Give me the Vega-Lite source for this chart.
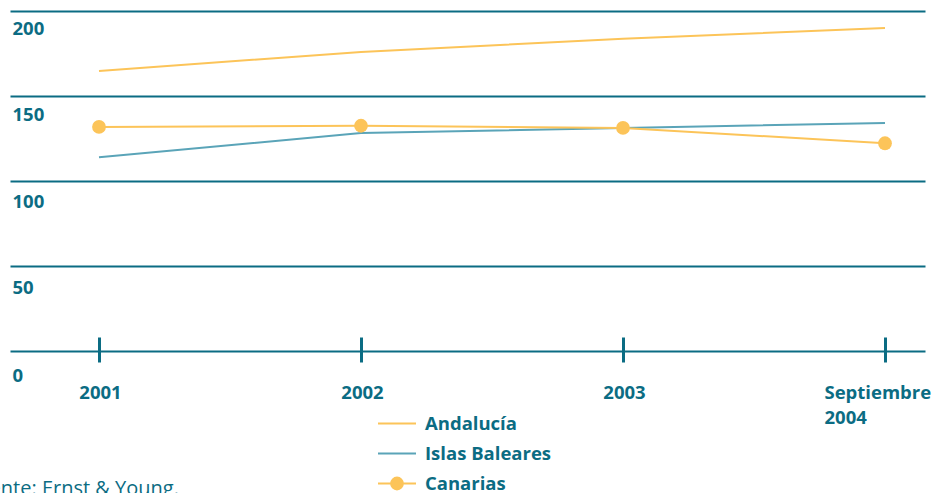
{
  "$schema": "https://vega.github.io/schema/vega-lite/v6.json",
  "width": 915,
  "height": 340,
  "autosize": {"type": "none"},
  "padding": {"left": 10, "top": 11, "right": 10, "bottom": 142},
  "background": "white",
  "config": {"view": {"stroke": null}, "font": "Open Sans"},
  "title": {
    "text": "Fuente: Ernst & Young.",
    "orient": "top",
    "anchor": "start",
    "frame": "group",
    "baseline": "alphabetic",
    "offset": 0,
    "dx": -43,
    "dy": 504,
    "font": "Open Sans",
    "fontSize": 20,
    "fontWeight": "normal",
    "color": "#0b6c83"
  },
  "data": {
    "values": [
      {"periodo": "2001", "anio": 2001, "serie": "Andalucía", "valor": 164.7},
      {"periodo": "2002", "anio": 2002, "serie": "Andalucía", "valor": 175.9},
      {"periodo": "2003", "anio": 2003, "serie": "Andalucía", "valor": 183.7},
      {"periodo": "Septiembre 2004", "anio": 2004, "serie": "Andalucía", "valor": 190.0},
      {"periodo": "2001", "anio": 2001, "serie": "Islas Baleares", "valor": 113.9},
      {"periodo": "2002", "anio": 2002, "serie": "Islas Baleares", "valor": 128.2},
      {"periodo": "2003", "anio": 2003, "serie": "Islas Baleares", "valor": 131.2},
      {"periodo": "Septiembre 2004", "anio": 2004, "serie": "Islas Baleares", "valor": 134.1},
      {"periodo": "2001", "anio": 2001, "serie": "Canarias", "valor": 131.8},
      {"periodo": "2002", "anio": 2002, "serie": "Canarias", "valor": 132.5},
      {"periodo": "2003", "anio": 2003, "serie": "Canarias", "valor": 131.2},
      {"periodo": "Septiembre 2004", "anio": 2004, "serie": "Canarias", "valor": 122.2}
    ]
  },
  "encoding": {
    "x": {
      "field": "anio",
      "type": "quantitative",
      "scale": {"domain": [2000.6603, 2004.1527], "nice": false, "zero": false},
      "axis": {
        "title": null,
        "domain": false,
        "grid": false,
        "ticks": true,
        "values": [2001, 2002, 2003, 2004],
        "tickSize": 25,
        "tickWidth": 3,
        "tickColor": "#0b6c83",
        "offset": -14,
        "labelPadding": 21,
        "labelFont": "Open Sans",
        "labelFontSize": 18.5,
        "labelFontWeight": "bold",
        "labelColor": "#0b6c83",
        "labelAngle": 0,
        "labelOverlap": false,
        "labelFlush": false,
        "labelBound": false,
        "labelLineHeight": 25,
        "labelExpr": "datum.value == 2004 ? ['Septiembre', '2004'] : format(datum.value, 'd')",
        "labelAlign": {"condition": {"test": "datum.value == 2004", "value": "left"}, "value": "center"},
        "labelOffset": {"condition": {"test": "datum.value == 2004", "value": -61}, "value": 1},
        "zindex": 1
      }
    },
    "y": {
      "field": "valor",
      "type": "quantitative",
      "scale": {"domain": [0, 200]},
      "axis": {
        "title": null,
        "domain": false,
        "ticks": false,
        "tickSize": 0,
        "grid": true,
        "gridColor": "#0b6c83",
        "gridWidth": 2,
        "values": [0, 50, 100, 150, 200],
        "labelAlign": "left",
        "labelBaseline": "alphabetic",
        "labelPadding": -2,
        "labelOffset": {
          "condition": [
            {"test": "datum.value == 200", "value": 23},
            {"test": "datum.value == 150", "value": 24.5},
            {"test": "datum.value == 100", "value": 26.5},
            {"test": "datum.value == 50", "value": 27.5}
          ],
          "value": 30
        },
        "labelFont": "Open Sans",
        "labelFontSize": 18.5,
        "labelFontWeight": "bold",
        "labelColor": "#0b6c83",
        "labelFlush": false,
        "labelOverlap": false,
        "labelBound": false
      }
    },
    "color": {
      "field": "serie",
      "type": "nominal",
      "scale": {"domain": ["Andalucía", "Islas Baleares", "Canarias"], "range": ["#fcc459", "#5aa4b8", "#fcc459"]},
      "legend": {
        "title": null,
        "orient": "none",
        "legendX": 367,
        "legendY": 402,
        "direction": "vertical",
        "padding": 0,
        "symbolType": {"expr": "datum.value === 'Canarias' ? 'M-1,0H3M1.62,0A0.62,0.62 0 1,1 0.38,0A0.62,0.62 0 1,1 1.62,0M1.47,0A0.47,0.47 0 1,1 0.53,0A0.47,0.47 0 1,1 1.47,0M1.32,0A0.32,0.32 0 1,1 0.68,0A0.32,0.32 0 1,1 1.32,0M1.17,0A0.17,0.17 0 1,1 0.83,0A0.17,0.17 0 1,1 1.17,0M1.05,0A0.05,0.05 0 1,1 0.95,0A0.05,0.05 0 1,1 1.05,0' : 'M-1,0H3'"},
        "symbolSize": 361,
        "symbolStrokeWidth": 2,
        "labelOffset": 27,
        "rowPadding": 10,
        "labelFont": "Open Sans",
        "labelFontSize": 18.5,
        "labelFontWeight": "bold",
        "labelColor": "#0b6c83",
        "labelLimit": 300
      }
    }
  },
  "layer": [
    {"mark": {"type": "line", "strokeWidth": 2}},
    {
      "transform": [{"filter": "datum.serie === 'Canarias'"}],
      "mark": {"type": "point", "filled": true, "size": 190, "opacity": 1}
    }
  ]
}
